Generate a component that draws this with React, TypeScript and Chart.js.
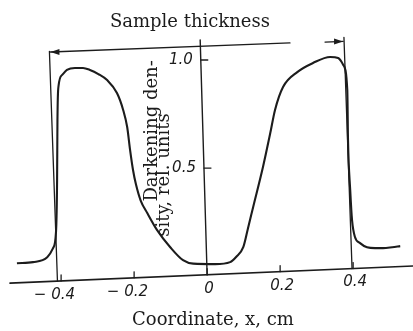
import React, { useEffect, useRef } from "react";
import { Chart, registerables } from "chart.js";

Chart.register(...registerables);

// Coordinate x, cm
const coordX = [
  -0.521, -0.477, -0.438, -0.422, -0.414, -0.411, -0.41, -0.407, -0.397, -0.384,
  -0.362, -0.34, -0.321, -0.298, -0.274, -0.247, -0.23, -0.219, -0.211, -0.203,
  -0.195, -0.182, -0.164, -0.137, -0.101, -0.066, -0.038, 0.022, 0.063, 0.08,
  0.099, 0.112, 0.126, 0.153, 0.173, 0.186, 0.208, 0.247, 0.29, 0.337,
  0.359, 0.373, 0.384, 0.386, 0.392, 0.397, 0.405, 0.419, 0.438, 0.46,
  0.482, 0.507, 0.529,
];
// Darkening density, rel. units
const density = [
  0.06, 0.065, 0.088, 0.13, 0.204, 0.444, 0.722, 0.88, 0.931, 0.954,
  0.963, 0.963, 0.954, 0.935, 0.907, 0.847, 0.769, 0.69, 0.583, 0.491,
  0.425, 0.35, 0.292, 0.213, 0.134, 0.074, 0.058, 0.056, 0.065, 0.09,
  0.134, 0.222, 0.319, 0.505, 0.662, 0.769, 0.875, 0.944, 0.986, 1.014,
  1.009, 0.977, 0.861, 0.63, 0.398, 0.259, 0.181, 0.153, 0.134, 0.13,
  0.13, 0.134, 0.139,
];

const xTickValues = [-0.4, -0.2, 0, 0.2, 0.4];
const xTickLabels = ["−0.4", "−0.2", "0", "0.2", "0.4"];
const yTickValues = [1.0, 0.5];
const yTickLabels = ["1.0", "0.5"];
const sampleEdges = [-0.41, 0.397];
const xTitle = "Coordinate, x, cm";
const yTitleLines = ["Darkening den-", "sity, rel. units"];
const topLabel = "Sample thickness";

const INK = "#1c1c1c";
const SERIF = '"DejaVu Serif", serif';
const TICKFONT = 'italic 15px "DejaVu Sans", sans-serif';

function arrowHead(ctx: CanvasRenderingContext2D, tipX: number, tipY: number, dir: number) {
  ctx.beginPath();
  ctx.moveTo(tipX, tipY);
  ctx.lineTo(tipX - dir * 9, tipY - 3);
  ctx.lineTo(tipX - dir * 9, tipY + 3);
  ctx.closePath();
  ctx.fill();
}

const annotations = {
  id: "annotations",
  afterDatasetsDraw(chart: any) {
    const { ctx, scales } = chart;
    const xs = scales.x;
    const ys = scales.y;
    const X = (v: number) => xs.getPixelForValue(v);
    const Y = (v: number) => ys.getPixelForValue(v);
    const line = (x1: number, y1: number, x2: number, y2: number) => {
      ctx.beginPath();
      ctx.moveTo(x1, y1);
      ctx.lineTo(x2, y2);
      ctx.stroke();
    };
    ctx.save();
    ctx.strokeStyle = INK;
    ctx.fillStyle = INK;
    ctx.lineCap = "round";

    // x axis (slightly tilted, like the scanned original)
    const a0 = { x: xs.min, y: -0.032 };
    const a1 = { x: xs.max, y: 0.047 };
    const axisAt = (v: number) => a0.y + ((v - a0.x) * (a1.y - a0.y)) / (a1.x - a0.x);
    ctx.lineWidth = 1.6;
    line(X(a0.x), Y(a0.y), X(a1.x), Y(a1.y));

    ctx.font = TICKFONT;
    ctx.textBaseline = "middle";
    xTickValues.forEach((v, i) => {
      const px = X(v);
      const py = Y(axisAt(v));
      ctx.lineWidth = 1.3;
      line(px, py, px, py - 6);
      const lab = xTickLabels[i];
      const num = lab.replace("−", "");
      const numW = ctx.measureText(num).width;
      ctx.textAlign = "right";
      ctx.fillText(lab.replace("−", "− "), px + 2 + numW / 2, py + 14);
    });

    // y axis (tilted)
    const yTop = { x: -0.019, y: 1.093 };
    const yBot = { x: 0, y: axisAt(0) };
    ctx.lineWidth = 1.4;
    line(X(yTop.x), Y(yTop.y), X(yBot.x), Y(yBot.y));
    const yAxisX = (v: number) =>
      X(yTop.x + ((v - yTop.y) * (yBot.x - yTop.x)) / (yBot.y - yTop.y));
    yTickValues.forEach((v, i) => {
      const px = yAxisX(v);
      const py = Y(v);
      ctx.lineWidth = 1.3;
      line(px, py, px + 7, py);
      ctx.textAlign = "right";
      ctx.fillText(yTickLabels[i], px - 8, py);
    });

    // sample edge lines
    ctx.lineWidth = 1.3;
    const edgeTops = [1.04, 1.105];
    sampleEdges.forEach((v, i) => {
      const bx = X(v);
      const by = Y(axisAt(v));
      const ty = Y(edgeTops[i]);
      line(bx, by, bx - 0.035 * (by - ty), ty);
    });

    // "Sample thickness" arrows
    const lBy = Y(axisAt(sampleEdges[0]));
    const lTipY = Y(1.037);
    const lTipX = X(sampleEdges[0]) - 0.035 * (lBy - lTipY) + 1;
    const lEndX = X(0.227);
    const lEndY = Y(1.079);
    ctx.lineWidth = 1.3;
    line(lTipX, lTipY, lEndX, lEndY);
    arrowHead(ctx, lTipX, lTipY, -1);
    const rBy = Y(axisAt(sampleEdges[1]));
    const rTipY = Y(1.086);
    const rTipX = X(sampleEdges[1]) - 0.035 * (rBy - rTipY) - 1;
    line(X(0.323), Y(1.083), rTipX, rTipY);
    arrowHead(ctx, rTipX, rTipY, 1);

    // texts
    ctx.textAlign = "center";
    ctx.textBaseline = "middle";
    ctx.font = `18px ${SERIF}`;
    ctx.fillText(topLabel, X(-0.047), Y(1.176));
    ctx.fillText(xTitle, X(0.016), Y(0) + 44);

    const yCols = [
      { dx: -55, v: 0.672 },
      { dx: -43, v: 0.468 },
    ];
    yTitleLines.forEach((t, i) => {
      ctx.save();
      ctx.translate(X(0) + yCols[i].dx, Y(yCols[i].v));
      ctx.rotate(-Math.PI / 2);
      ctx.fillText(t, 0, 0);
      ctx.restore();
    });

    ctx.restore();
  },
};

export default function App() {
  const canvasRef = useRef<HTMLCanvasElement | null>(null);

  useEffect(() => {
    document.body.style.margin = "0";
    document.body.style.background = "#ffffff";
    const canvas = canvasRef.current;
    if (!canvas) return;
    const chart = new Chart(canvas, {
      type: "line",
      data: {
        datasets: [
          {
            data: coordX.map((x, i) => ({ x, y: density[i] })),
            borderColor: INK,
            borderWidth: 2.1,
            pointRadius: 0,
            fill: false,
            cubicInterpolationMode: "monotone",
          },
        ],
      },
      options: {
        animation: false,
        responsive: false,
        maintainAspectRatio: false,
        layout: { padding: { left: 10, right: 0, top: 20, bottom: 44 } },
        plugins: {
          legend: { display: false },
          tooltip: { enabled: false },
          title: { display: false },
        },
        scales: {
          x: { type: "linear", min: -0.54, max: 0.564, display: false },
          y: { type: "linear", min: -0.05, max: 1.185, display: false },
        },
      },
      plugins: [annotations],
    });
    return () => chart.destroy();
  }, []);

  return (
    <div style={{ width: 413, height: 331, background: "#fff" }}>
      <canvas ref={canvasRef} width={413} height={331} />
    </div>
  );
}
